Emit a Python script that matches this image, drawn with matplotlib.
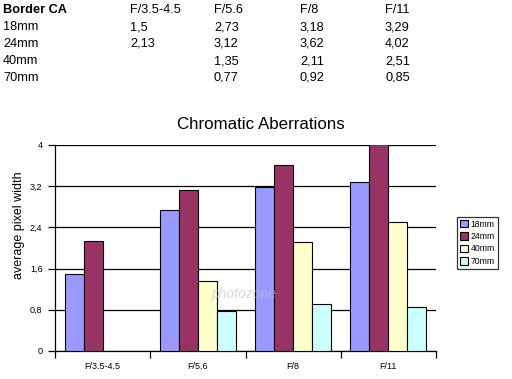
import numpy as np
import matplotlib
matplotlib.use("Agg")
import matplotlib.pyplot as plt

plt.rcParams["font.family"] = ["Liberation Sans", "DejaVu Sans"]

# Data
apertures = ["F/3.5-4.5", "F/5.6", "F/8", "F/11"]
lenses = ["18mm", "24mm", "40mm", "70mm"]
ca_18 = [1.5, 2.73, 3.18, 3.29]
ca_24 = [2.13, 3.12, 3.62, 4.02]
ca_40 = [np.nan, 1.35, 2.11, 2.51]
ca_70 = [np.nan, 0.77, 0.92, 0.85]
yticks = [0, 0.8, 1.6, 2.4, 3.2, 4]
ytick_labels = ["0", "0,8", "1,6", "2,4", "3,2", "4"]

colors = ["#9999FF", "#993366", "#FFFFCC", "#CCFFFF"]


def fmt(v):
    if np.isnan(v):
        return ""
    return ("%g" % v).replace(".", ",")


def main():
    fig = plt.figure(figsize=(5.12, 3.79), dpi=100)
    W, H = 512, 379

    # table at the top (baselines in px)
    col_x = [3, 130, 214, 300, 385]
    row_base = [13, 30, 47, 64, 81]
    fs = 9.2
    fig.text(col_x[0] / W, 1 - row_base[0] / H, "Border CA", fontsize=fs,
             fontweight="bold", va="baseline", ha="left")
    for j, ap in enumerate(apertures):
        fig.text(col_x[j + 1] / W, 1 - row_base[0] / H, ap, fontsize=fs,
                 va="baseline", ha="left")
    series = [ca_18, ca_24, ca_40, ca_70]
    for i, (name, vals) in enumerate(zip(lenses, series)):
        y = 1 - row_base[i + 1] / H
        fig.text(col_x[0] / W, y, name, fontsize=fs, va="baseline", ha="left")
        for j, v in enumerate(vals):
            fig.text(col_x[j + 1] / W, y, fmt(v), fontsize=fs,
                     va="baseline", ha="left")

    # chart
    left, right, top, bottom = 55, 436, 145, 351
    ax = fig.add_axes([left / W, 1 - bottom / H, (right - left) / W, (bottom - top) / H])
    x = np.arange(len(apertures))
    offsets = [-0.3, -0.1, 0.1, 0.3]
    for k in range(4):
        vals = np.array(series[k], dtype=float)
        ok = ~np.isnan(vals)
        ax.bar(x[ok] + offsets[k], vals[ok], width=0.2, color=colors[k],
               edgecolor="black", linewidth=0.8, label=lenses[k], zorder=3)

    ax.set_xlim(-0.5, 3.5)
    ax.set_ylim(0, 4)
    ax.set_yticks(yticks)
    ax.set_yticklabels(ytick_labels, fontsize=6.5)
    ax.yaxis.grid(True, color="black", linewidth=0.9, zorder=0)
    ax.set_axisbelow(True)

    ax.set_xticks(np.arange(-0.5, 4, 1.0))
    ax.set_xticklabels([])
    ax.set_xticks(x, minor=True)
    ax.set_xticklabels(apertures, minor=True, fontsize=6.5)
    ax.tick_params(axis="x", which="minor", length=0, pad=8)
    ax.tick_params(axis="x", which="major", length=5, width=0.9)
    ax.tick_params(axis="y", length=5, width=0.9, pad=4)

    for s in ["top", "right"]:
        ax.spines[s].set_visible(False)
    ax.spines["left"].set_linewidth(0.9)
    ax.spines["bottom"].set_linewidth(0.9)

    # faint watermark
    fig.text(244 / W, 1 - 294 / H, "photozone", fontsize=10, style="italic",
             color="#B8C4D4", alpha=0.6, ha="center", va="center", zorder=10)

    fig.text(19 / W, 1 - 225 / H, "average pixel width", fontsize=9,
             rotation=90, ha="center", va="center")
    fig.text(260.5 / W, 1 - 124.5 / H, "Chromatic Aberrations", fontsize=12.2,
             ha="center", va="center")

    leg = ax.legend(loc="upper left", bbox_to_anchor=((457 - left) / (right - left),
                                                      (bottom - 217) / (bottom - top)),
                    fontsize=6.2, frameon=True, fancybox=False,
                    edgecolor="black", handlelength=1.0, handleheight=1.0,
                    handletextpad=0.3, borderpad=0.3, labelspacing=0.4,
                    borderaxespad=0)
    leg.get_frame().set_linewidth(0.9)

    fig.savefig("out.png", dpi=100)
    plt.close(fig)


if __name__ == "__main__":
    main()
